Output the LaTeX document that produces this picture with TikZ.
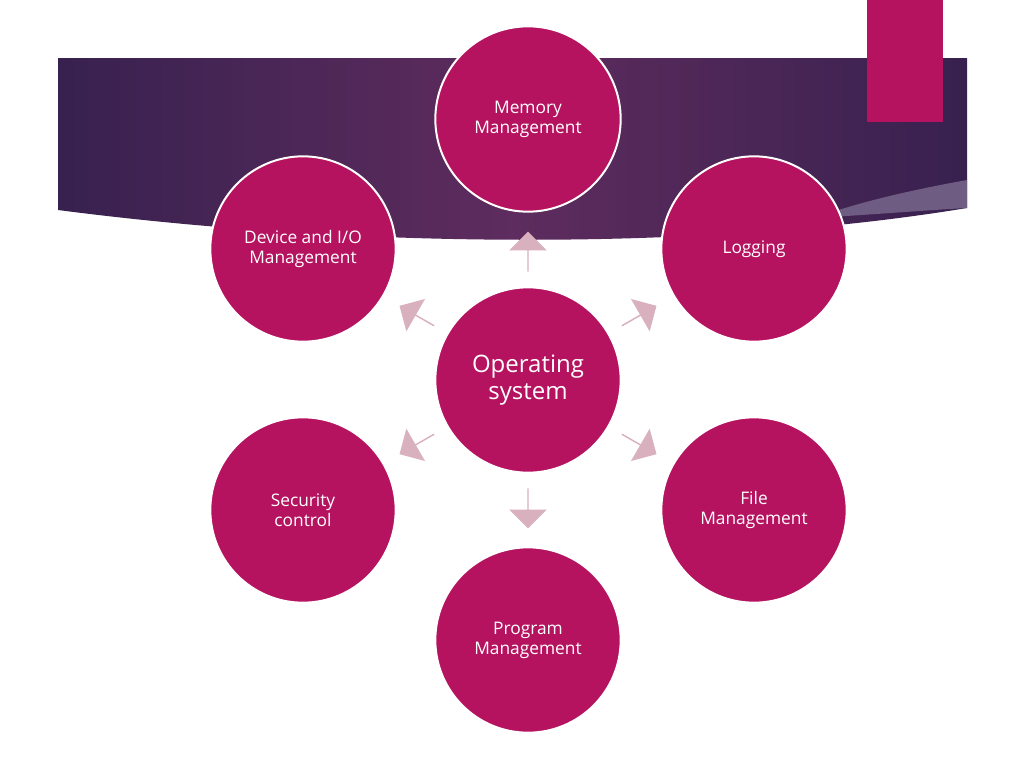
\documentclass[tikz,border=0pt]{standalone}
\usepackage{fontspec}
\setmainfont{Open Sans}
\usetikzlibrary{shapes.arrows,calc}
\definecolor{osPink}{HTML}{B5135F}
\definecolor{osArrow}{HTML}{D8B0BE}
\definecolor{osDark}{HTML}{38214F}
\definecolor{osMid}{HTML}{5E2C5E}
\definecolor{osBand}{HTML}{6F5C82}
\tikzset{
  task/.style={circle, fill=osPink, draw=white, line width=1.5pt, minimum size=139pt,
    text=white, align=center, font=\fontsize{13}{15}\selectfont},
  outarrow/.style={single arrow, fill=osArrow, minimum width=28pt, minimum height=30pt,
    single arrow head extend=5pt, inner sep=0pt}
}
\begin{document}
\begin{tikzpicture}[x=0.75pt,y=-0.75pt]
\useasboundingbox (0,0) rectangle (1024,768);
\fill[white] (0,0) rectangle (1024,768);
% banner
\shade[left color=osDark, right color=osDark, middle color=osMid]
  (58,58) -- (967,58) -- (967,208) .. controls (700,252) and (350,248) .. (58,210) -- cycle;
\fill[osBand] (967,180) .. controls (900,192) and (850,205) .. (815,218)
  .. controls (880,214) and (930,210) .. (967,208) -- cycle;
\fill[osPink] (867,0) rectangle (943,122);
% centre
\node[task, font=\fontsize{18}{20}\selectfont] (os) at (528,380) {Operating\\system};
\node[task] (mem) at (528,119) {Memory\\Management};
\node[task] (log) at (754,249) {Logging};
\node[task] (file) at (754,510) {File\\Management};
\node[task] (prog) at (528,640) {Program\\Management};
\node[task] (sec) at (303,510) {Security\\control};
\node[task] (dev) at (303,249) {Device and I/O\\Management};
% arrows
\foreach \a/\n in {90/mem,30/log,-30/file,-90/prog,-150/sec,150/dev}
  \node[outarrow, rotate=\a] (arr-\n) at ($(os)+({128*cos(\a)},{-128*sin(\a)})$) {};
\end{tikzpicture}
\end{document}
